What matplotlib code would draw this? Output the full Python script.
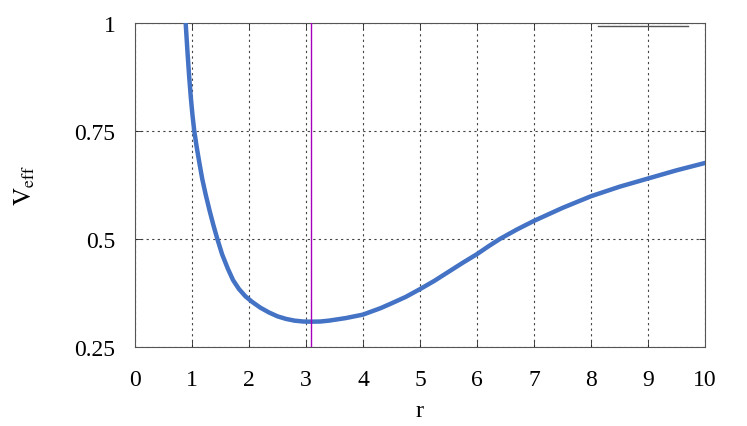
import matplotlib
matplotlib.use("Agg")
import matplotlib.pyplot as plt
from matplotlib.lines import Line2D

# values
r_vals = [0.889, 0.92, 0.95, 0.98, 1.01, 1.04, 1.08, 1.13, 1.18, 1.24, 1.31,
          1.38, 1.445, 1.53, 1.63, 1.72, 1.825, 1.94, 2.06, 2.2, 2.35, 2.5,
          2.65, 2.8, 2.95, 3.09, 3.25, 3.4, 3.55, 3.7, 3.85, 4.0, 4.31, 4.5,
          4.75, 5.0, 5.25, 5.5, 5.75, 6.0, 6.2, 6.4, 6.7, 7.0, 7.5, 8.0, 8.5,
          9.0, 9.5, 10.0]
v_eff = [1.0, 0.935, 0.877, 0.827, 0.785, 0.75, 0.715, 0.676, 0.639, 0.603,
         0.565, 0.530, 0.50, 0.464, 0.431, 0.405, 0.384, 0.367, 0.354, 0.341,
         0.330, 0.321, 0.315, 0.311, 0.309, 0.3086, 0.309, 0.311, 0.314, 0.317,
         0.321, 0.325, 0.340, 0.351, 0.366, 0.384, 0.403, 0.424, 0.445, 0.465,
         0.483, 0.50, 0.522, 0.542, 0.572, 0.599, 0.621, 0.640, 0.659, 0.676]
r_min = 3.09
x_ticks = list(range(0, 11))
y_ticks = [0.25, 0.5, 0.75, 1.0]
y_labels = ["0.25", "0.5", "0.75", "1"]

plt.rcParams["font.family"] = ["Liberation Serif", "DejaVu Serif"]
plt.rcParams["mathtext.fontset"] = "stix"

fig = plt.figure(figsize=(7.47, 4.27), dpi=100)
ax = fig.add_axes([0.1807, 0.185, 0.9438 - 0.1807, 0.9438 - 0.185])

ax.plot(r_vals, v_eff, color="#4472c4", linewidth=3.2, solid_joinstyle="round", zorder=3)
ax.axvline(r_min, color="#a400bc", linewidth=1.0, zorder=4)

ax.set_xlim(0, 10)
ax.set_ylim(0.25, 1.0)
ax.set_xticks(x_ticks)
ax.set_yticks(y_ticks)
ax.set_yticklabels(y_labels)
ax.tick_params(direction="in", length=4, width=0.6, labelsize=17, colors="#222222",
               top=True, right=True)
ax.tick_params(axis="x", pad=16, labelcolor="black")
ax.tick_params(axis="y", pad=14, labelcolor="black")
ax.grid(True, color="#444444", linestyle=(0, (2, 3)), linewidth=0.8)

for side in ax.spines.values():
    side.set_color("#555555")
    side.set_linewidth(0.8)

ax.set_xlabel("r", fontsize=17.5, labelpad=7)
ax.set_ylabel(r"$\mathrm{V_{eff}}$", fontsize=18, labelpad=27)

key = Line2D([], [], color="#555555", linewidth=1.0)
ax.legend([key], [""], loc="upper right", frameon=False, handlelength=3.93,
          handletextpad=0.0, borderaxespad=0.0, borderpad=0.0, fontsize=16.5,
          bbox_to_anchor=(0.97, 1.015))

fig.savefig("out.png", dpi=100)
